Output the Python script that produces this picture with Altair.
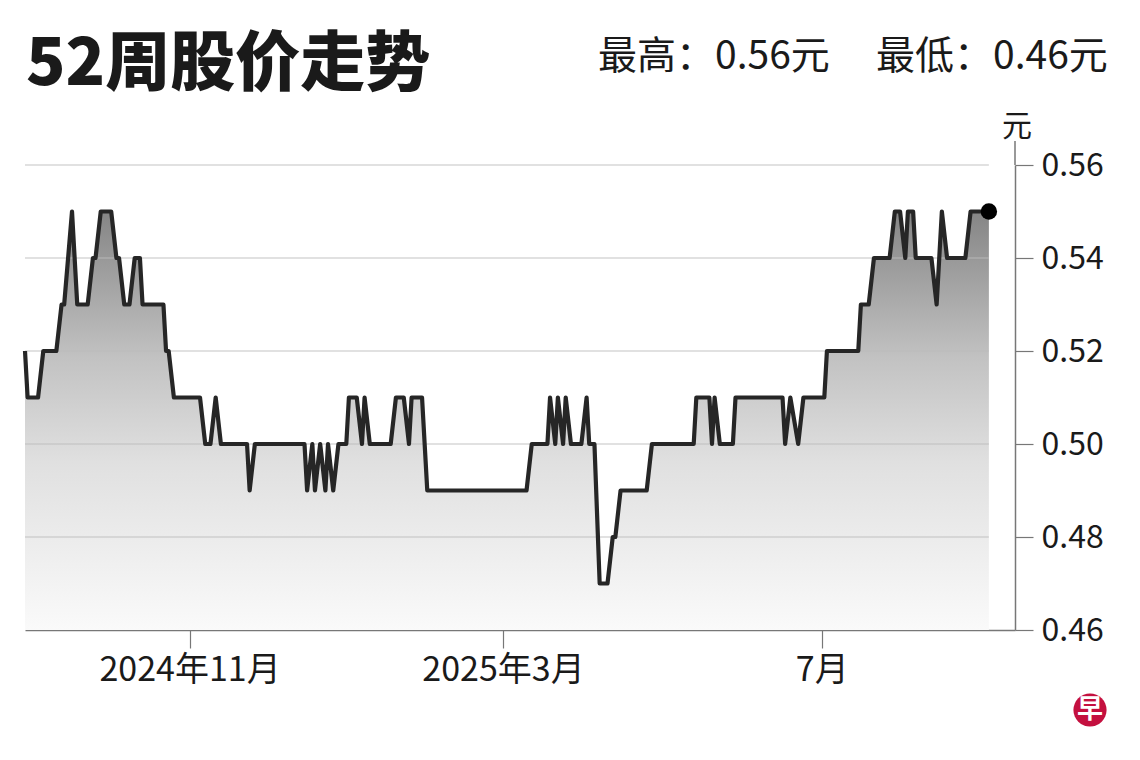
import altair as alt
import pandas as pd

FONT = "Noto Sans CJK SC"

# ---- data ----
dates = [
    "2024-08-30", "2024-08-31", "2024-09-04", "2024-09-06", "2024-09-11", "2024-09-13",
    "2024-09-14", "2024-09-17", "2024-09-19", "2024-09-23", "2024-09-25", "2024-09-26",
    "2024-09-28", "2024-10-02", "2024-10-04", "2024-10-05", "2024-10-07", "2024-10-09",
    "2024-10-11", "2024-10-13", "2024-10-14", "2024-10-22", "2024-10-23", "2024-10-24",
    "2024-10-26", "2024-11-05", "2024-11-07", "2024-11-09", "2024-11-11", "2024-11-13",
    "2024-11-23", "2024-11-24", "2024-11-26", "2024-12-15", "2024-12-16", "2024-12-18",
    "2024-12-19", "2024-12-21", "2024-12-23", "2024-12-24", "2024-12-26", "2024-12-28",
    "2024-12-31", "2025-01-01", "2025-01-04", "2025-01-06", "2025-01-07", "2025-01-09",
    "2025-01-17", "2025-01-19", "2025-01-22", "2025-01-24", "2025-01-25", "2025-01-29",
    "2025-01-31", "2025-03-10", "2025-03-12", "2025-03-18", "2025-03-19", "2025-03-21",
    "2025-03-22", "2025-03-24", "2025-03-25", "2025-03-27", "2025-03-31", "2025-04-02",
    "2025-04-03", "2025-04-05", "2025-04-07", "2025-04-10", "2025-04-12", "2025-04-13",
    "2025-04-15", "2025-04-25", "2025-04-27", "2025-05-13", "2025-05-14", "2025-05-19",
    "2025-05-20", "2025-05-21", "2025-05-23", "2025-05-28", "2025-05-29", "2025-06-16",
    "2025-06-17", "2025-06-19", "2025-06-22", "2025-06-24", "2025-07-02", "2025-07-03",
    "2025-07-15", "2025-07-16", "2025-07-19", "2025-07-21", "2025-07-27", "2025-07-29",
    "2025-07-31", "2025-08-02", "2025-08-03", "2025-08-05", "2025-08-06", "2025-08-12",
    "2025-08-14", "2025-08-16", "2025-08-18", "2025-08-25", "2025-08-27", "2025-09-03",
]
prices = [
    0.52, 0.51, 0.51, 0.52, 0.52, 0.53,
    0.53, 0.55, 0.53, 0.53, 0.54, 0.54,
    0.55, 0.55, 0.54, 0.54, 0.53, 0.53,
    0.54, 0.54, 0.53, 0.53, 0.52, 0.52,
    0.51, 0.51, 0.50, 0.50, 0.51, 0.50,
    0.50, 0.49, 0.50, 0.50, 0.49, 0.50,
    0.49, 0.50, 0.49, 0.50, 0.49, 0.50,
    0.50, 0.51, 0.51, 0.50, 0.51, 0.50,
    0.50, 0.51, 0.51, 0.50, 0.51, 0.51,
    0.49, 0.49, 0.50, 0.50, 0.51, 0.50,
    0.51, 0.50, 0.51, 0.50, 0.50, 0.51,
    0.50, 0.50, 0.47, 0.47, 0.48, 0.48,
    0.49, 0.49, 0.50, 0.50, 0.51, 0.51,
    0.50, 0.51, 0.50, 0.50, 0.51, 0.51,
    0.50, 0.51, 0.50, 0.51, 0.51, 0.52,
    0.52, 0.53, 0.53, 0.54, 0.54, 0.55,
    0.55, 0.54, 0.55, 0.55, 0.54, 0.54,
    0.53, 0.55, 0.54, 0.54, 0.55, 0.55,
]

y_ticks = [0.46, 0.48, 0.50, 0.52, 0.54, 0.56]
grid_values = [0.48, 0.50, 0.52, 0.54, 0.56]
x_tick_years = [2024, 2025, 2025]
x_tick_months = [11, 3, 7]
x_tick_labels = ["2024年11月", "2025年3月", "7月"]
x_domain = [(2024, 8, 30), (2025, 9, 13)]

title_text = ["52周股价走势"]
high_text = ["最高：0.56元"]
low_text = ["最低：0.46元"]
unit_text = ["元"]
logo_text = ["早"]

# ---- build ----
df = pd.DataFrame({"date": dates, "price": prices})
last = df.tail(1)

dom = [alt.DateTime(year=y, month=m, date=d, utc=True) for (y, m, d) in x_domain]
tick_vals = [alt.DateTime(year=y, month=m, date=1, utc=True)
             for y, m in zip(x_tick_years, x_tick_months)]
label_expr = ""
for m, lab in zip(x_tick_months, x_tick_labels):
    label_expr += f"utcmonth(datum.value)=={m-1} ? '{lab}' : "
label_expr += "''"

x_enc = alt.X(
    "date:T",
    scale=alt.Scale(type="utc", domain=dom),
    axis=alt.Axis(
        values=tick_vals, labelExpr=label_expr, title=None, grid=False,
        tickSize=18, tickColor="#777", tickWidth=1.2, domainColor="#777", domainWidth=1.5,
        labelFontSize=34, labelFont=FONT, labelColor="#1a1a1a", labelPadding=5,
        labelLimit=400, labelOverlap=False,
    ),
)
y_scale = alt.Scale(domain=[0.46, 0.56], zero=False, nice=False)
y_enc = alt.Y(
    "price:Q",
    scale=y_scale,
    axis=alt.Axis(
        orient="right", values=y_ticks, format=".2f", title=None, grid=False,
        tickSize=18, tickColor="#777", tickWidth=1.2, domainColor="#777", domainWidth=1.5,
        labelFontSize=32, labelFont=FONT, labelColor="#1a1a1a", labelPadding=8,
        labelLimit=300,
    ),
)

gradient = alt.Gradient(
    gradient="linear",
    stops=[
        alt.GradientStop(color="#858585", offset=0),
        alt.GradientStop(color="#c2c2c2", offset=0.35),
        alt.GradientStop(color="#e0e0e0", offset=0.6),
        alt.GradientStop(color="#fafafa", offset=1),
    ],
    x1=0, x2=0, y1=0, y2=1,
)

area = alt.Chart(df).mark_area(color=gradient).encode(
    x=x_enc, y=y_enc, y2=alt.datum(0.46)
)

grid_df = pd.DataFrame({
    "g": grid_values,
    "xs": [dates[0]] * len(grid_values),
    "xe": [dates[-1]] * len(grid_values),
})
grid = alt.Chart(grid_df).mark_rule(color="#bdbdbd", strokeWidth=1.6, opacity=0.6).encode(
    x=alt.X("xs:T", scale=alt.Scale(type="utc", domain=dom)),
    x2="xe:T",
    y=alt.Y("g:Q", scale=y_scale),
)

# small extension of the right axis line above the top tick
axis_ext = alt.Chart(pd.DataFrame({"t": unit_text})).mark_rule(
    color="#777", strokeWidth=1.5
).encode(x=alt.value(990), y=alt.value(-24), y2=alt.value(0))

line = alt.Chart(df).mark_line(color="#262626", strokeWidth=4.2, strokeJoin="round").encode(
    x=x_enc, y=y_enc
)
dot = alt.Chart(last).mark_point(filled=True, size=270, color="#000000", opacity=1).encode(
    x=alt.X("date:T"), y=alt.Y("price:Q")
)


def txt(values, x, y, size, weight="normal", align="left", color="#1a1a1a", baseline="middle"):
    return alt.Chart(pd.DataFrame({"t": values})).mark_text(
        font=FONT, fontSize=size, fontWeight=weight, align=align, baseline=baseline, color=color
    ).encode(x=alt.value(x), y=alt.value(y), text="t:N")


title = txt(title_text, 1, -80, 65, weight=900, baseline="alphabetic")
high = txt(high_text, 573, -108, 39)
low = txt(low_text, 851, -108, 39)
unit = txt(unit_text, 992, -38, 30, align="center")

logo_circle = alt.Chart(pd.DataFrame({"t": logo_text})).mark_point(
    filled=True, size=1100, color="#c4103f", opacity=1
).encode(x=alt.value(1065), y=alt.value(545))
logo = txt(logo_text, 1065, 545, 26, weight="bold", align="center", color="#ffffff")

chart = alt.layer(
    area, grid, axis_ext, line, dot, title, high, low, unit, logo_circle, logo
).resolve_scale(x="shared", y="shared").properties(
    width=990, height=465,
    autosize=alt.AutoSizeParams(type="none"),
    padding={"left": 17, "top": 157, "right": 117, "bottom": 110},
    background="#ffffff",
).configure_view(stroke=None)

chart.save("out.html", embed_options={"renderer": "svg", "actions": False})
